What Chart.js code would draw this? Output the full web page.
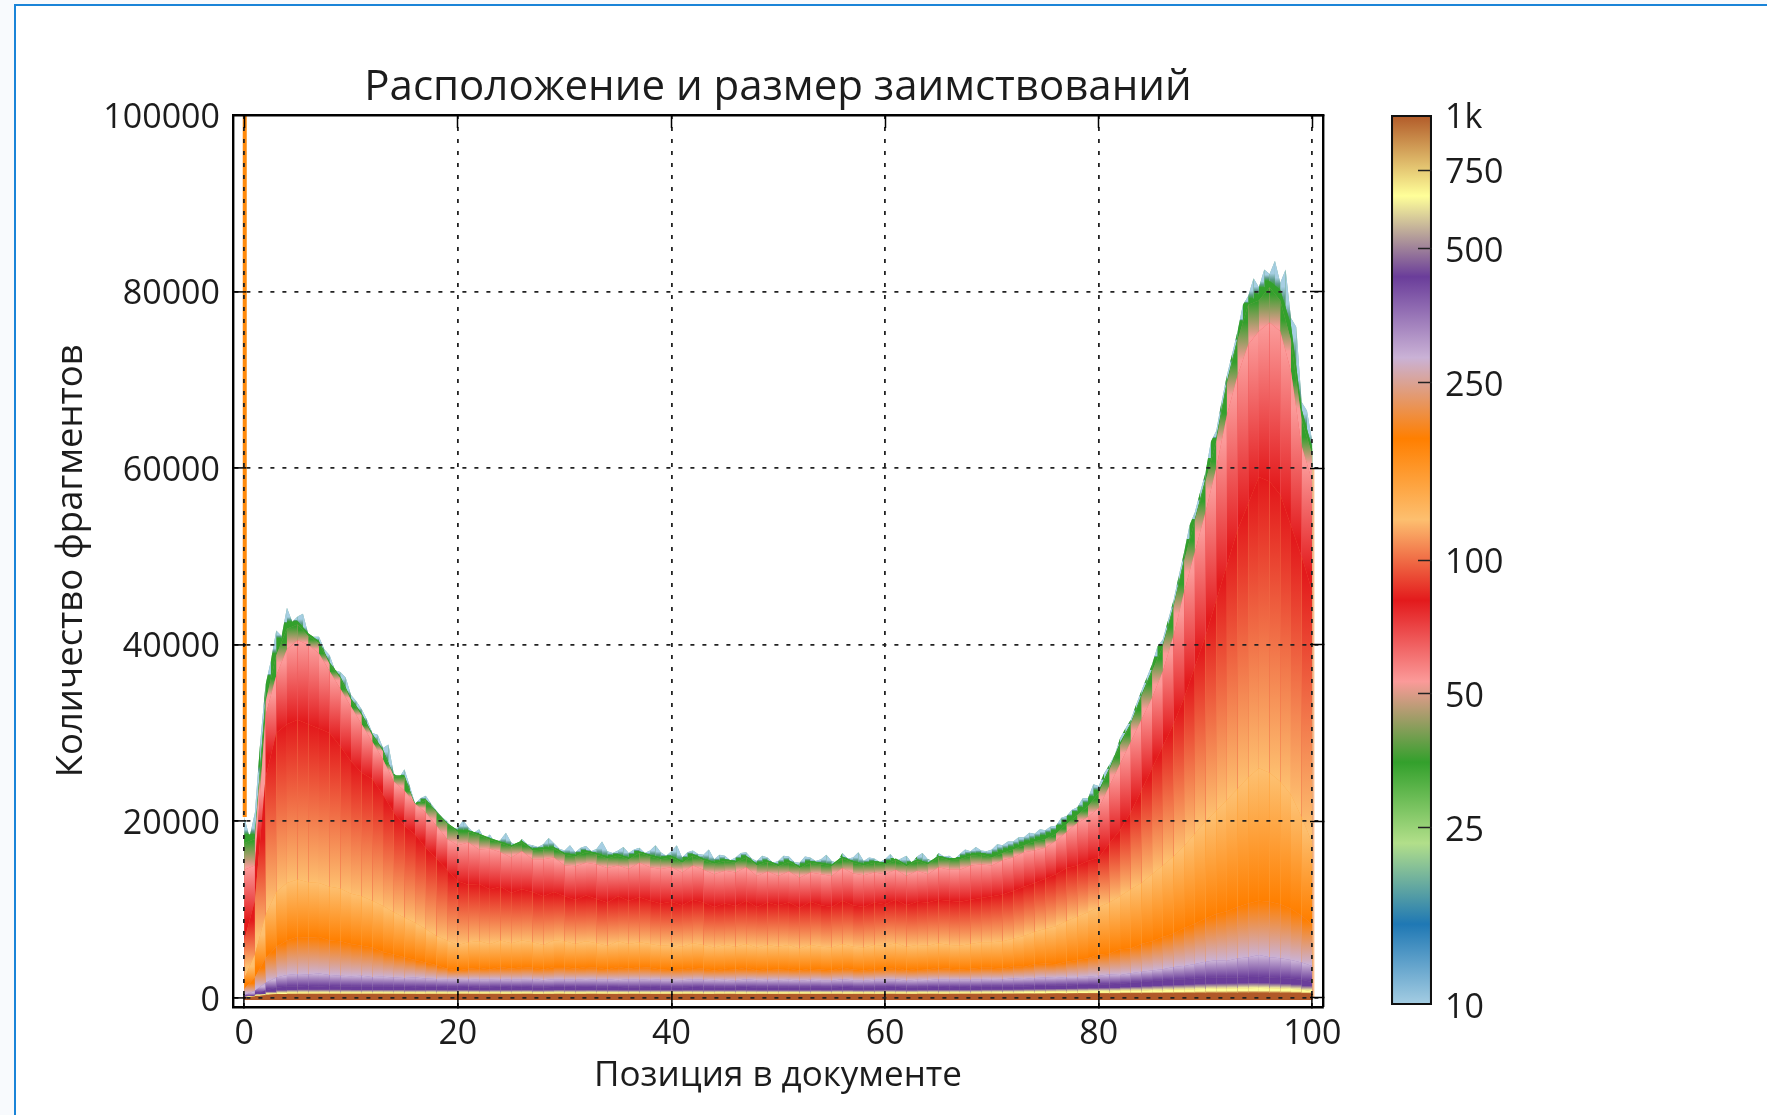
<!DOCTYPE html>
<html lang="ru">
<head>
<meta charset="utf-8">
<title>Расположение и размер заимствований</title>
<script src="https://cdn.jsdelivr.net/npm/chart.js@4/dist/chart.umd.min.js"></script>
<style>
html,body{margin:0;padding:0;background:#f8fafd;width:1767px;height:1115px;overflow:hidden}
#sheet{position:absolute;left:14px;top:4px;right:0;bottom:0;background:#fff;border-top:2px solid #1a84d8;border-left:2px solid #1a84d8}
canvas{position:absolute;top:0}
#mainChart{left:0}
#barChart{left:1360px}
</style>
</head>
<body>
<div id="sheet"></div>
<canvas id="mainChart" width="1560" height="1115"></canvas>
<canvas id="barChart" width="407" height="1115"></canvas>
<script>
const titleText = 'Расположение и размер заимствований';
const xTitle = 'Позиция в документе';
const yTitle = 'Количество фрагментов';
const xTicks = [0,20,40,60,80,100];
const yTicks = [0,20000,40000,60000,80000,100000];
const sizeTicks = [10,25,50,100,250,500,750,1000];
const sizeLabels = ['10','25','50','100','250','500','750','1k'];

// colormap, small sizes to big
const paired = ['#a6cee3','#1f78b4','#b2df8a','#33a02c','#fb9a99','#e31a1c','#fdbf6f','#ff7f00','#cab2d6','#6a3d9a','#ffff99','#b15928'];

// count of fragments at each document position (x = 0..100)
const brownTop = [40,160,300,400,440,440,430,450,430,440,430,440,430,450,430,440,430,420,440,430,
 430,440,420,440,430,420,440,430,420,440,430,420,440,430,420,440,430,440,420,430,
 430,420,440,430,420,440,430,420,440,430,420,430,440,420,430,440,420,430,440,420,
 430,440,420,430,440,430,420,440,430,440,440,430,450,440,450,440,460,450,470,460,
 470,460,480,490,480,500,490,510,510,520,530,540,530,550,560,560,550,540,530,510,440];
const yellowLevel = [70,240,420,520,590,610,620,600,630,610,620,610,630,600,620,610,600,620,610,600,
 610,630,600,620,610,600,630,610,590,620,620,600,610,630,610,590,610,620,600,610,
 600,620,610,590,610,620,600,610,590,610,600,610,590,620,600,610,620,590,610,600,
 610,620,600,610,630,610,620,640,620,650,640,660,650,670,690,680,710,720,740,760,
 780,760,800,840,820,880,860,940,920,980,1000,1040,1020,1080,1100,1120,1080,1060,1000,940,760];
const purpleLevel = [100,350,850,1150,1300,1300,1350,1300,1350,1300,1300,1250,1300,1250,1300,1250,1200,1250,1250,1200,
 1200,1250,1150,1200,1250,1200,1250,1200,1150,1250,1250,1200,1250,1200,1200,1250,1150,1200,1250,1200,
 1200,1150,1250,1200,1200,1150,1200,1250,1150,1200,1150,1200,1150,1200,1200,1150,1250,1200,1150,1200,
 1200,1250,1150,1200,1200,1250,1200,1250,1200,1250,1300,1250,1300,1300,1350,1350,1400,1400,1450,1450,
 1500,1550,1600,1700,1800,1900,2000,2050,2100,2200,2250,2300,2300,2300,2350,2400,2300,2250,2200,2050,1800];
const lilacLevel = [300,800,1700,2300,2600,2700,2650,2750,2600,2500,2450,2500,2350,2400,2300,2250,2300,2200,2150,2100,
 2100,2150,2050,2100,2150,2050,2100,2150,2000,2100,2100,2050,2150,2050,2100,2000,2100,2050,2150,2050,
 2050,2000,2100,2050,2000,2050,1950,2100,2000,2050,2000,2050,1950,2050,2000,1950,2100,2000,1950,2050,
 2050,2100,1950,2050,2000,2100,2050,2100,2050,2100,2150,2100,2200,2150,2250,2300,2250,2350,2350,2400,
 2500,2650,2600,2800,2950,3100,3250,3500,3600,3850,4100,4250,4200,4450,4600,4850,4600,4500,4300,4000,3600];
const orangeLevel = [1000,2300,4500,5800,6500,6900,6800,6900,6500,6400,6100,5900,5700,5200,4900,4600,4300,4000,3700,3300,
 3100,3300,3400,3200,3500,3300,3500,3400,3200,3500,3500,3300,3500,3400,3200,3500,3300,3500,3400,3200,
 3300,3200,3400,3300,3100,3300,3200,3400,3100,3300,3200,3300,3100,3300,3200,3100,3400,3200,3100,3300,
 3200,3400,3100,3300,3200,3400,3300,3200,3300,3400,3400,3300,3600,3500,3800,3900,3800,4100,4300,4500,
 4900,5000,5500,5600,6100,6400,6900,7300,7900,8400,9000,9500,9800,10300,10700,11000,10900,10600,10100,9300,8300];
const lightOrangeLevel = [2200,4900,9400,12000,13000,13400,13100,13000,12600,12400,11800,11500,11000,10400,9700,9100,8500,7800,7000,6500,
 6000,6300,6400,6100,6500,6200,6500,6300,6000,6500,6400,6100,6400,6200,5900,6400,6100,6300,6100,5900,
 6000,5800,6200,6000,5700,6000,5800,6100,5700,6000,5800,6000,5600,6000,5800,5700,6100,5800,5700,6000,
 5900,6200,5800,6000,5900,6200,6000,5900,6100,6300,6300,6400,6700,7000,7500,7800,8100,8700,9200,9700,
 10300,10800,11500,12300,13000,14000,15000,16000,17200,18600,20000,21200,22400,23700,25000,26000,25500,24500,23000,20500,17500];
const redLevel = [6500,11000,25000,30000,31000,31500,31000,30500,30000,28500,26800,25500,24800,23000,21000,19500,18500,17000,15800,14500,
 13200,12800,12900,12300,12600,11900,12300,12000,11500,12000,11500,11100,11600,11200,10800,11500,11000,11400,11000,10700,
 10900,10500,11100,10800,10300,10700,10400,11000,10300,10800,10500,10800,10200,10900,10500,10300,11000,10500,10300,10800,
 10600,11100,10500,10900,10800,11100,11000,10900,11100,11300,11500,11700,12100,12600,13000,13500,14000,14700,15000,15500,
 15900,17500,19000,21000,23500,26000,28500,31000,34000,37500,41000,45000,49000,53000,56000,59000,58500,57000,53500,50000,46000];
const pinkLevel = [14500,15000,32000,36500,39500,40500,40000,39000,37000,35000,33000,31000,29000,27000,24500,23500,22000,21000,19500,18000,
 17300,17600,16800,16900,16500,15900,16600,15700,15700,15900,15000,14900,15300,15100,14700,15000,14600,15300,14800,14600,
 14800,14200,15000,14500,14000,14400,14200,14800,13800,14300,13800,14300,13600,14200,14000,13800,14700,14100,13900,14200,
 14000,14500,13800,14400,14000,14800,14500,14500,15000,15100,15000,15600,15900,16500,16700,17000,17800,18800,19800,20500,
 21500,24000,26500,29000,31500,34000,37000,41000,46000,50500,55000,60000,66000,70500,74000,75500,76500,75500,71000,62500,58500];
const greenLevel = [17500,18000,33500,38800,41800,42300,41000,40200,37800,36200,33700,32000,29700,27900,25100,25000,21800,22400,21000,19700,
 18800,18800,18400,17900,17500,17100,17600,16700,16800,16900,16200,16000,16500,16200,15800,16100,15700,16400,16000,15700,
 15900,15300,16100,15600,15200,15500,15300,15900,15000,15400,14900,15400,14700,15300,15100,14900,15800,15300,15000,15300,
 15100,15600,14900,15500,15100,15900,15600,15700,16100,16200,15900,16400,16800,17300,17700,18000,18600,19700,20700,21700,
 23200,25800,28600,31000,34100,37000,39800,44200,49500,54000,58500,63000,69500,74500,78500,79000,80500,79000,74500,65500,61500];
// where green stops and the thin blue rim starts
const greenEnd = [18500,18500,34000,39000,42500,42700,41300,40400,38000,36400,33900,32200,29900,28100,25200,25200,21900,22500,21100,19800,
 19000,19000,18600,18100,17700,17300,17800,16900,17000,17100,16400,16200,16700,16400,16000,16300,15900,16600,16200,15900,
 16100,15500,16300,15800,15400,15700,15500,16100,15200,15600,15100,15600,14900,15500,15300,15100,16000,15500,15200,15500,
 15300,15800,15100,15700,15300,16100,15800,15900,16300,16400,16200,16700,17100,17600,18000,18400,19000,20100,21100,22100,
 23500,26000,28900,31100,34300,37200,40000,44400,49700,54200,58800,63400,69800,74700,78700,79700,81200,80200,76200,66700,62200];
// outer envelope, every half position
const totalLevel = [20500,18200,21000,29000,35500,38200,41600,41000,44200,42600,
 43200,43500,41200,40900,40900,39500,38800,37100,36900,36300,
 34300,33600,32700,31500,30000,29800,28300,28700,25400,24900,
 25900,24000,22000,22600,22900,22000,21200,20500,20000,19100,
 19300,20100,19300,18700,19100,18000,18500,17500,17900,18700,
 17600,17300,18000,17400,17300,17100,17400,18100,17500,16900,
 16700,17300,16500,17000,17200,16600,16900,17700,16600,16400,
 16700,17100,16400,16800,17000,16400,16700,17300,16500,16100,
 16600,17300,15900,16500,16700,16300,16200,16800,15700,16200,
 16100,15600,15900,16400,16500,15800,15500,16100,15900,15300,
 15500,16100,16000,15400,15300,16000,15900,15500,15700,16200,
 15500,15300,16400,15800,15900,16500,15500,15900,15800,15400,
 15700,16300,15500,15800,16100,15300,16000,16400,15700,15500,
 16400,16000,16100,15700,16300,16800,16600,17100,16700,16600,
 16800,17400,17300,17700,17700,18200,18200,18700,18600,19100,
 19000,19400,19500,20400,20600,21300,21600,22600,22600,24200,
 24000,25400,26400,27500,29400,30500,31500,33200,34800,36300,
 37800,39800,40600,42800,45000,47800,50500,53500,55000,57300,
 59500,63000,64200,67500,70500,73000,75500,78500,79500,81500,
 80500,82500,82000,83500,81000,82500,77000,76000,67500,66500,
 63000];
// first and last bins, the first one runs off the top of the plot
const firstBinX = [0.05,0.05];
const firstBinY = [20500,100000];
const lastBinX = [100.1,100.1];
const lastBinY = [0,60000];
const baseValue = -250;

const FONT = '"Open Sans", sans-serif';
const TEXT = '#1c1c1c';

// one band = everything up to a level, coloured from the stops between the level below and this one.
// lower bands paint over upper ones so there are no pale seams between them
const bands = [
  {level:brownTop, flat:'#b15928', stops:['#b15928','#b15928']},
  {level:yellowLevel, flat:'#d8ac60', stops:['#b15928','#ffff99','#ffff99']},
  {level:purpleLevel, flat:'#8a6aa0', stops:['#ffff99','#6a3d9a','#6a3d9a']},
  {level:lilacLevel, flat:'#9a78b8', stops:['#6a3d9a','#cab2d6']},
  {level:orangeLevel, flat:'#e4986c', stops:['#cab2d6','#ff7f00']},
  {level:lightOrangeLevel, flat:'#fe9f38', stops:['#ff7f00','#fdbf6f']},
  {level:redLevel, flat:'#f06c46', stops:['#fdbf6f','#e31a1c']},
  {level:pinkLevel, flat:'#ef5a5a', stops:['#e31a1c','#fb9a99']},
  {level:greenLevel, flat:'#979d62', stops:['#fb9a99','#33a02c']},
  {level:greenEnd, flat:'#33a02c', stops:['#33a02c','#33a02c']},
  {level:totalLevel, half:true, flat:'#7ab59c', stops:['#33a02c','#5f9c8e','#a6cee3','#a6cee3']}
];

function points(b){
  const step = b.half ? 0.5 : 1;
  return b.level.map((v,i)=>({x:i*step,y:v}));
}

function lowerValue(i,x){
  if(i===0) return baseValue;
  return bands[i-1].level[Math.round(x)];
}

function bandSegment(i){
  return {
    borderDashOffset: c => c.p0DataIndex, // a gradient alone does not split the segments
    backgroundColor: c => {
      const sc = c.chart.scales.y;
      const x0 = c.p0.parsed.x, x1 = c.p1.parsed.x;
      const hi = sc.getPixelForValue((c.p0.parsed.y+c.p1.parsed.y)/2);
      const lo = sc.getPixelForValue((lowerValue(i,x0)+lowerValue(i,x1))/2);
      const g = c.chart.ctx.createLinearGradient(0,lo+0.01,0,hi);
      const st = bands[i].stops;
      st.forEach((col,k)=> g.addColorStop(k/(st.length-1),col));
      return g;
    }
  };
}

const datasets = [];
bands.forEach((b,i)=>{
  // flat copy underneath, it shows in the seams between the gradient slices
  datasets.push({data:points(b), fill:{value:baseValue}, backgroundColor:b.flat, borderWidth:0, pointRadius:0, order:2*i+11});
  datasets.push({data:points(b), fill:{value:baseValue}, backgroundColor:b.flat, borderWidth:0, pointRadius:0, segment:bandSegment(i), order:2*i+10});
});
datasets.push({data:firstBinX.map((x,i)=>({x,y:firstBinY[i]})), borderColor:'#ff8a0c', borderWidth:4, pointRadius:0, fill:false, order:1});
datasets.push({data:lastBinX.map((x,i)=>({x,y:lastBinY[i]})), borderColor:'rgba(253,170,110,0.8)', borderWidth:2, pointRadius:0, fill:false, order:1});

const innerTick = {tickLength:-13, tickColor:'#000', tickWidth:1.5};

new Chart(document.getElementById('mainChart'), {
  type:'line',
  data:{datasets},
  options:{
    responsive:false,
    animation:false,
    layout:{autoPadding:false, padding:{left:0,right:237,top:0,bottom:0}},
    plugins:{
      legend:{display:false},
      tooltip:{enabled:false},
      title:{display:true,fullSize:false,text:titleText,color:TEXT,font:{family:FONT,size:42,weight:'normal',lineHeight:1.2},padding:{top:63,bottom:1.6}}
    },
    scales:{
      x:{
        type:'linear',position:'bottom',min:-1.05,max:101,
        afterBuildTicks:s=>{s.ticks=xTicks.map(v=>({value:v}));},
        afterFit:s=>{s.height=108.3;},
        grid:{color:'#222',lineWidth:1.8,z:1,...innerTick},
        border:{color:'#000',width:2.4,z:2,dash:[4,8]},
        ticks:{color:TEXT,font:{family:FONT,size:34},padding:20,maxRotation:0,autoSkip:false,callback:v=>String(v)},
        title:{display:true,text:xTitle,color:TEXT,font:{family:FONT,size:35},padding:{top:0,bottom:18}}
      },
      y:{
        type:'linear',position:'left',min:-1000,max:100000,
        afterBuildTicks:s=>{s.ticks=yTicks.map(v=>({value:v}));},
        afterFit:s=>{s.width=233;},
        grid:{color:'#222',lineWidth:1.8,z:1,...innerTick},
        border:{color:'#000',width:2.4,z:2,dash:[4,8]},
        ticks:{color:TEXT,font:{family:FONT,size:34},padding:26,labelOffset:3,autoSkip:false,callback:v=>String(v)},
        title:{display:true,text:yTitle,color:TEXT,font:{family:FONT,size:36.5},padding:{top:50,bottom:0}}
      },
      xTop:{
        type:'linear',position:'top',min:-1.05,max:101,
        afterBuildTicks:s=>{s.ticks=xTicks.map(v=>({value:v}));},
        afterFit:s=>{s.height=0;},
        grid:{drawOnChartArea:false,z:1,...innerTick},
        border:{color:'#000',width:2.4,z:2},
        ticks:{display:false}
      },
      yRight:{
        type:'linear',position:'right',min:-1000,max:100000,
        afterBuildTicks:s=>{s.ticks=yTicks.map(v=>({value:v}));},
        afterFit:s=>{s.width=0;},
        grid:{drawOnChartArea:false,z:1,...innerTick},
        border:{color:'#000',width:2.4,z:2},
        ticks:{display:false}
      }
    }
  }
});

// colour bar: log axis, one floating bar with the colormap as gradient
new Chart(document.getElementById('barChart'), {
  type:'bar',
  data:{
    labels:[''],
    datasets:[{
      data:[[sizeTicks[0],sizeTicks[sizeTicks.length-1]]],
      barPercentage:1,categoryPercentage:1,
      borderColor:'#111',borderWidth:2.4,borderSkipped:false,
      backgroundColor:c=>{
        const a = c.chart.chartArea;
        if(!a) return paired[0];
        const g = c.chart.ctx.createLinearGradient(0,a.bottom,0,a.top);
        paired.forEach((col,k)=> g.addColorStop(k/(paired.length-1),col));
        return g;
      }
    }]
  },
  options:{
    responsive:false,
    animation:false,
    layout:{autoPadding:false,padding:{left:31,right:0,top:115,bottom:110}},
    plugins:{legend:{display:false},tooltip:{enabled:false}},
    scales:{
      x:{display:false},
      y:{
        type:'logarithmic',position:'right',min:10,max:1000,
        afterBuildTicks:s=>{s.ticks=sizeTicks.map(v=>({value:v}));},
        afterFit:s=>{s.width=335;},
        grid:{drawOnChartArea:false,z:1,tickLength:-14,tickColor:c=>(c.index===0||c.index===sizeTicks.length-1)?'transparent':'#222',tickWidth:1.5},
        border:{display:false},
        ticks:{color:TEXT,font:{family:FONT,size:34},padding:27,labelOffset:3,autoSkip:false,callback:(v,i)=>sizeLabels[i]}
      }
    }
  }
});
</script>
</body>
</html>
